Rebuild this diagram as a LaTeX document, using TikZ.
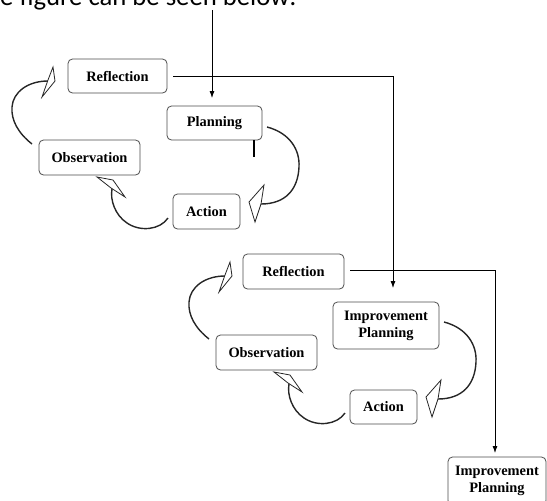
\documentclass[tikz,border=0pt]{standalone}
\usepackage{fontspec}
\setmainfont{Liberation Serif}
\newfontfamily\carlito{Carlito}
\usetikzlibrary{arrows.meta}
\tikzset{
  box/.style={draw=black!70, line width=0.8pt, rounded corners=4.5pt, fill=white,
    inner sep=0pt, align=center, font=\bfseries\fontsize{14.4}{17}\selectfont},
  conn/.style={line width=0.8pt, black},
  connarrow/.style={conn, -{Latex[length=7pt,width=5pt]}},
  cycarc/.style={line width=1.4pt, black!85},
  cychead/.style={line width=0.8pt, black!85, fill=white, line join=miter}
}
\begin{document}
\begin{tikzpicture}[x=1pt,y=-1pt]
\useasboundingbox (0,0) rectangle (547,501);
\clip (0,0) rectangle (547,501);
% top text (cut off at the top edge, as in the reference)
\node[anchor=base west, inner sep=0pt, font=\carlito\fontsize{26.7}{30}\selectfont] (toptext) at (0,5) {e figure can be seen below:};
% first cycle
\node[box, minimum width=99pt, minimum height=34pt] (R1) at (117.5,76) {Reflection};
\node[box, minimum width=95pt, minimum height=34pt] (P1) at (214.5,123) {Planning};
\node[box, minimum width=101pt, minimum height=35pt] (O1) at (89.5,157.5) {Observation};
\node[box, minimum width=67pt, minimum height=35pt] (A1) at (206.5,211.5) {Action};
% second cycle
\node[box, minimum width=101pt, minimum height=35pt] (R2) at (293.5,271.5) {Reflection};
\node[box, minimum width=106pt, minimum height=47pt] (IP1) at (386,325.5) {Improvement\\Planning};
\node[box, minimum width=101pt, minimum height=35pt] (O2) at (266.5,352.5) {Observation};
\node[box, minimum width=67pt, minimum height=34pt] (A2) at (383.5,407) {Action};
\node[box, minimum width=98pt, minimum height=48pt] (IP2) at (497,481) {Improvement\\Planning};
% connector coordinates
\coordinate (topstart) at (212,10);
\coordinate (topend) at (212,98);
\coordinate (r1out) at (173,76);
\coordinate (r1corner) at (393,76);
\coordinate (ip1in) at (393,288);
\coordinate (r2out) at (350,270);
\coordinate (r2corner) at (495,270);
\coordinate (ip2in) at (495,453);
\draw[connarrow] (topstart) -- (topend);
\draw[connarrow] (r1out) -- (r1corner) -- (ip1in);
\draw[connarrow] (r2out) -- (r2corner) -- (ip2in);
% stray tick
\coordinate (tickA) at (254,140);
\coordinate (tickB) at (254,157);
\draw[line width=1.4pt] (tickA) -- (tickB);
% curved cycle arrows
\foreach \dx/\dy in {0/0, 177/195}{
  \begin{scope}[shift={(\dx,\dy)}]
    % planning -> action
    \draw[cycarc] (267,127) .. controls (290,133) and (300,150) .. (299,167)
                  .. controls (298,190) and (285,204) .. (261,204);
    \draw[cychead] (264,185) -- (249,202) -- (255,222) -- (261,204) -- cycle;
    % action -> observation
    \draw[cycarc] (168,218) .. controls (160,230) and (140,232) .. (127,223)
                  .. controls (115,215) and (110,200) .. (112,189);
    \draw[cychead] (97,177) -- (113,180) -- (125,197) -- (111,188) -- cycle;
    % observation -> reflection
    \draw[cycarc] (32,144) .. controls (18,133) and (11,120) .. (12,107)
                  .. controls (13,92) and (28,81) .. (48,81);
    \draw[cychead] (53,67) -- (55,81) -- (42,97) -- (48,80) -- cycle;
  \end{scope}
}
\end{tikzpicture}
\end{document}
